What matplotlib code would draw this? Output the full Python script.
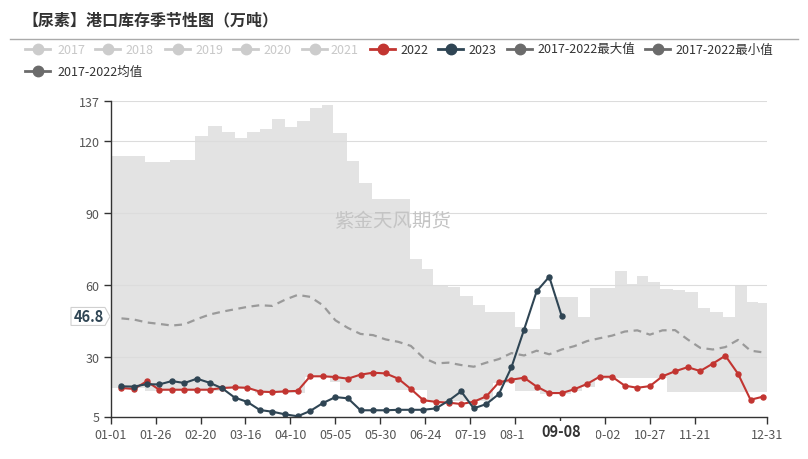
import matplotlib
matplotlib.use('Agg')
import matplotlib.pyplot as plt
import numpy as np
import pandas as pd
from matplotlib.lines import Line2D
from matplotlib.patches import Polygon, Rectangle

plt.rcParams['font.family'] = ['Noto Sans CJK SC', 'DejaVu Sans']

# ---------------- data ----------------
base = pd.Timestamp('2020-01-01')
week_dates = pd.date_range('2020-01-07', periods=52, freq='7D')

y2022 = [16.9, 16.5, 19.7, 16.2, 16.2, 16.2, 16.2, 16.2, 16.9, 17.2,
         17.0, 15.4, 15.2, 15.5, 15.7, 21.8, 21.8, 21.5, 20.8, 22.5,
         23.3, 23.0, 20.8, 16.5, 11.8, 11.1, 10.8, 10.2, 11.2, 13.4,
         19.3, 20.4, 21.2, 17.5, 14.8, 14.8, 16.4, 18.6, 21.6, 21.6,
         17.9, 17.0, 17.7, 21.8, 23.9, 25.6, 24.0, 27.1, 30.4, 22.9,
         12.0, 13.3]

y2023 = [17.6, 17.5, 18.5, 18.4, 19.8, 19.0, 20.8, 19.1, 16.8, 12.9,
         11.1, 7.7, 7.0, 5.9, 5.1, 7.3, 10.6, 13.1, 12.6, 7.6,
         7.6, 7.6, 7.8, 7.8, 7.8, 8.4, 11.6, 15.5, 8.4, 10.2,
         14.4, 25.6, 41.3, 57.3, 63.4, 46.8]

y_mean = [46.0, 45.5, 44.3, 43.7, 43.0, 43.5, 45.7, 47.6, 48.8, 49.8,
          50.8, 51.5, 51.2, 53.8, 55.8, 55.0, 51.5, 45.2, 42.0, 39.5,
          39.0, 37.2, 36.2, 34.5, 29.5, 27.2, 27.5, 26.5, 25.8, 27.5,
          29.0, 31.5, 30.5, 32.5, 31.0, 33.0, 34.4, 36.5, 37.7, 38.8,
          40.5, 41.0, 39.2, 41.0, 41.1, 37.2, 33.7, 33.0, 34.0, 37.0,
          32.5, 31.8]

# 2017-2022 max (stepped): day-of-year breakpoints and values
max_days = [0, 19.1, 33.0, 46.9, 54.3, 61.8, 69.2, 75.7, 83.1, 89.9,
            97.0, 103.5, 110.9, 117.4, 123.9, 131.3, 138.3, 145.2, 166.6, 173.1,
            179.5, 187.9, 194.4, 201.8, 208.3, 225.0, 231.5, 238.9, 251.9, 260.2,
            266.8, 280.7, 287.1, 292.7, 299.2, 305.7, 313.1, 319.6, 327.0, 333.5,
            340.9, 347.4, 353.9, 360.4]
max_vals = [114.0, 111.2, 112.2, 122.3, 126.5, 124.0, 121.3, 123.8, 125.1, 129.3,
            125.8, 128.3, 133.9, 135.3, 123.3, 111.6, 102.5, 95.9, 70.8, 66.6,
            60.0, 59.0, 55.2, 51.6, 48.5, 42.3, 41.6, 55.1, 54.8, 46.5,
            58.6, 65.7, 60.4, 63.6, 61.3, 58.3, 58.0, 56.9, 50.2, 48.8,
            46.7, 59.7, 53.0, 52.3]

# 2017-2022 min (stepped)
min_days = [0, 19.1, 61.4, 80.3, 108.1, 122.0, 127.6, 175.8, 212.7, 225.0,
            238.9, 255.9, 262.3, 269.6, 280.5, 309.4]
min_vals = [16.8, 15.8, 16.6, 14.9, 21.3, 19.3, 16.0, 11.5, 18.8, 15.8,
            14.6, 15.5, 17.5, 20.5, 21.0, 15.4]

tick_days = [0, 25, 50, 75, 100, 125, 150, 175, 200, 225, 250, 275, 300, 325, 365]
y_ticks = [5, 30, 60, 90, 120, 137]

# ---------------- figure ----------------
W, H = 808, 460
fig = plt.figure(figsize=(W / 100, H / 100), dpi=100)
fig.patch.set_facecolor('white')

def fx(x):
    return x / W

def fy(y):
    return 1 - y / H

L, R, T, B = 110.7, 766.7, 101.6, 417.5
ax = fig.add_axes([fx(L), fy(B), (R - L) / W, (B - T) / H])
ax.set_xlim(0, 365)
ax.set_ylim(5, 137)

days = np.array([(d - base).days for d in week_dates], dtype=float)

# band
xs = np.array(sorted(set(max_days + min_days + [365.0])))
mx = np.array(max_vals)[np.searchsorted(max_days, xs, side='right') - 1]
mn = np.array(min_vals)[np.searchsorted(min_days, xs, side='right') - 1]
ax.fill_between(xs, mn, mx, step='post', color='#e3e3e3', lw=0, zorder=1)

# grid
for v in [30, 60, 90, 120, 137]:
    ax.axhline(v, color='#dcdcdc', lw=0.8, zorder=1.5)

# watermark
ax.text(fx(393), fy(222), '紫金天风期货', transform=fig.transFigure,
        fontsize=14, color='#c4c4c4', ha='center', va='center', zorder=1.8)

# mean
ax.plot(days, y_mean, color='#9a9a9a', lw=1.6, dashes=(3.5, 2.5), zorder=2)

# 2022 / 2023
ax.plot(days, y2022, color='#c23531', lw=1.5, marker='o', ms=3.6, zorder=3)
ax.plot(days[:len(y2023)], y2023, color='#2f4554', lw=1.5, marker='o', ms=3.6, zorder=4)

# axes styling
for s in ['top', 'right']:
    ax.spines[s].set_visible(False)
for s in ['left', 'bottom']:
    ax.spines[s].set_color('#333333')
    ax.spines[s].set_linewidth(1.0)
    ax.spines[s].set_zorder(5)

ax.set_yticks(y_ticks)
ax.set_yticklabels([str(v) for v in y_ticks])
ax.set_xticks(tick_days)
labels = [(base + pd.Timedelta(days=d)).strftime('%m-%d') for d in tick_days]
labels[tick_days.index(250)] = ''
ax.set_xticklabels(labels)
ax.tick_params(axis='both', length=5, width=1, color='#333333',
               labelcolor='#555555', labelsize=9)
ax.tick_params(axis='x', pad=3)
ax.tick_params(axis='y', pad=3)

# axis pointer label on x (09-08)
fig.patches.append(Rectangle((fx(524), fy(442)), (596 - 524) / W, 20 / H,
                             transform=fig.transFigure, facecolor='white',
                             edgecolor='none', zorder=10))
fig.text(fx(561), fy(432), '09-08', fontsize=10.5, fontweight='bold',
         color='#333333', ha='center', va='center', zorder=11)

# axis pointer label on y (46.8)
py = ax.transData.transform((0, 46.8))[1]
py = H - py
poly = [(71, py - 9), (105, py - 9), (110, py), (105, py + 9), (71, py + 9)]
fig.patches.append(Polygon([(fx(a), fy(b)) for a, b in poly], closed=True,
                           transform=fig.transFigure, facecolor='white',
                           edgecolor='#d0d0d0', lw=0.8, zorder=10))
fig.text(fx(89), fy(py), '46.8', fontsize=10.5, fontweight='bold',
         color='#2f4554', ha='center', va='center', zorder=11)

# title
fig.text(fx(22), fy(20), '【尿素】港口库存季节性图（万吨）', fontsize=11.5,
         fontweight='bold', color='#333333', ha='left', va='center')
fig.add_artist(Line2D([fx(10), fx(798)], [fy(40), fy(40)], color='#aaaaaa', lw=1))

# legend (manual)
legend_items = [
    ('2017', '#cccccc', '#c8c8c8', 25, 57, 50),
    ('2018', '#cccccc', '#c8c8c8', 95, 125, 50),
    ('2019', '#cccccc', '#c8c8c8', 165, 195, 50),
    ('2020', '#cccccc', '#c8c8c8', 233, 263, 50),
    ('2021', '#cccccc', '#c8c8c8', 302, 330, 50),
    ('2022', '#c23531', '#333333', 370, 400, 50),
    ('2023', '#2f4554', '#333333', 438, 468, 50),
    ('2017-2022最大值', '#6b6b6b', '#333333', 507, 537, 50),
    ('2017-2022最小值', '#6b6b6b', '#333333', 645, 675, 50),
    ('2017-2022均值', '#6b6b6b', '#333333', 25, 57, 72),
]
for name, c, tc, ix, tx, yy in legend_items:
    fig.add_artist(Line2D([fx(ix), fx(ix + 25)], [fy(yy), fy(yy)], color=c, lw=2))
    fig.add_artist(Line2D([fx(ix + 12.5)], [fy(yy)], color=c, marker='o', ms=7.5, lw=0))
    fig.text(fx(tx), fy(yy), name, fontsize=9, color=tc, ha='left', va='center',
             family=['Noto Sans CJK SC', 'DejaVu Sans'])

fig.savefig('out.png', dpi=100)
